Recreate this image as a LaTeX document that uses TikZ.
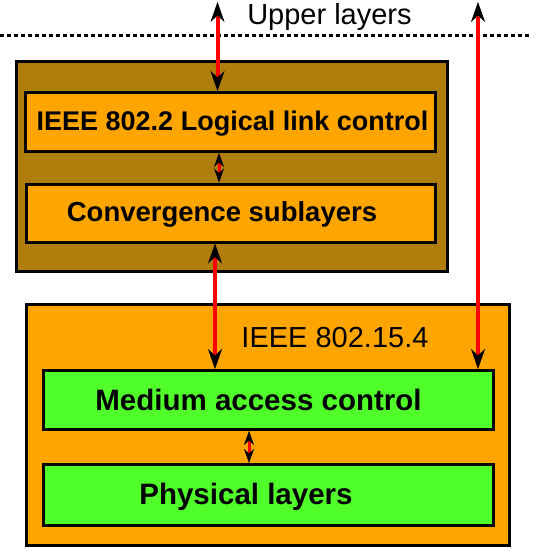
\documentclass[tikz,border=0pt]{standalone}
\usepackage{fontspec}
\setmainfont{Liberation Sans}
\usetikzlibrary{arrows.meta}

\definecolor{stackbrown}{RGB}{175,126,12}
\definecolor{layerorange}{RGB}{255,165,0}
\definecolor{macgreen}{RGB}{80,255,42}

\tikzset{
  layerbox/.style={draw=black, line width=3pt, inner sep=0pt},
  boxtext/.style={font=\fontsize{27.5}{30}\selectfont\bfseries, anchor=base, inner sep=0pt},
  bigtext/.style={font=\fontsize{29.5}{32}\selectfont\bfseries, anchor=base, inner sep=0pt},
  plaintext/.style={font=\fontsize{29}{32}\selectfont, anchor=base, inner sep=0pt},
  longlink/.style={red, line width=4pt,
    {Stealth[color=black, line width=0.5pt, length=20pt, width=14pt]}-{Stealth[color=black, line width=0.5pt, length=20pt, width=14pt]}},
  shortlink/.style={red, line width=3pt,
    {Stealth[color=black, line width=0.5pt, length=14pt, width=10pt]}-{Stealth[color=black, line width=0.5pt, length=14pt, width=10pt]}}
}

\begin{document}
\begin{tikzpicture}[x=1pt, y=-1pt]
      \useasboundingbox (0,0) rectangle (559,559);
      % upper boundary
      \draw[line width=3pt, dash pattern=on 3.5pt off 3.5pt] (0,36) -- (532,36);
      \node[plaintext] (upper) at (329.5,25) {Upper layers};

      % upper stack
      \node[layerbox, fill=stackbrown, minimum width=431pt, minimum height=210pt] (stack) at (232,166.5) {};
      \node[layerbox, fill=layerorange, minimum width=410pt, minimum height=59pt] (llc) at (230.5,122) {};
      \node[layerbox, fill=layerorange, minimum width=409pt, minimum height=58pt] (conv) at (231,213) {};
      \node[boxtext, font=\fontsize{27}{30}\selectfont\bfseries] (llctext) at ([xshift=2pt, yshift=-9pt]llc.center) {IEEE 802.2 Logical link control};
      \node[boxtext] (convtext) at ([xshift=-9pt, yshift=-8pt]conv.center) {Convergence sublayers};

      % 802.15.4
      \node[layerbox, fill=layerorange, minimum width=483pt, minimum height=241pt] (ieee) at (268,425) {};
      \node[layerbox, fill=macgreen, minimum width=450pt, minimum height=59pt] (mac) at (268.5,400) {};
      \node[layerbox, fill=macgreen, minimum width=450pt, minimum height=61pt] (phy) at (268.5,495) {};
      \node[plaintext] (ieeetext) at ([xshift=67pt, yshift=-44pt]ieee.north) {IEEE 802.15.4};
      \node[bigtext] (mactext) at ([xshift=-10pt, yshift=-10pt]mac.center) {Medium access control};
      \node[bigtext] (phytext) at ([xshift=-22.5pt, yshift=-9pt]phy.center) {Physical layers};

      % links
      \coordinate (upA) at (217.5,2);
      \coordinate (upB) at (478,2);
      \coordinate (downA) at ([xshift=-16pt]conv.south);
      \draw[longlink] (upA) -- (upA |- llc.north);
      \draw[shortlink] ([xshift=-11.5pt]llc.south) -- ([xshift=-12pt]conv.north);
      \draw[longlink] (downA) -- (downA |- mac.north);
      \draw[longlink] (upB) -- (upB |- mac.north);
      \draw[shortlink] ([xshift=-19.5pt]mac.south) -- ([xshift=-19.5pt]phy.north);
\end{tikzpicture}
\end{document}
